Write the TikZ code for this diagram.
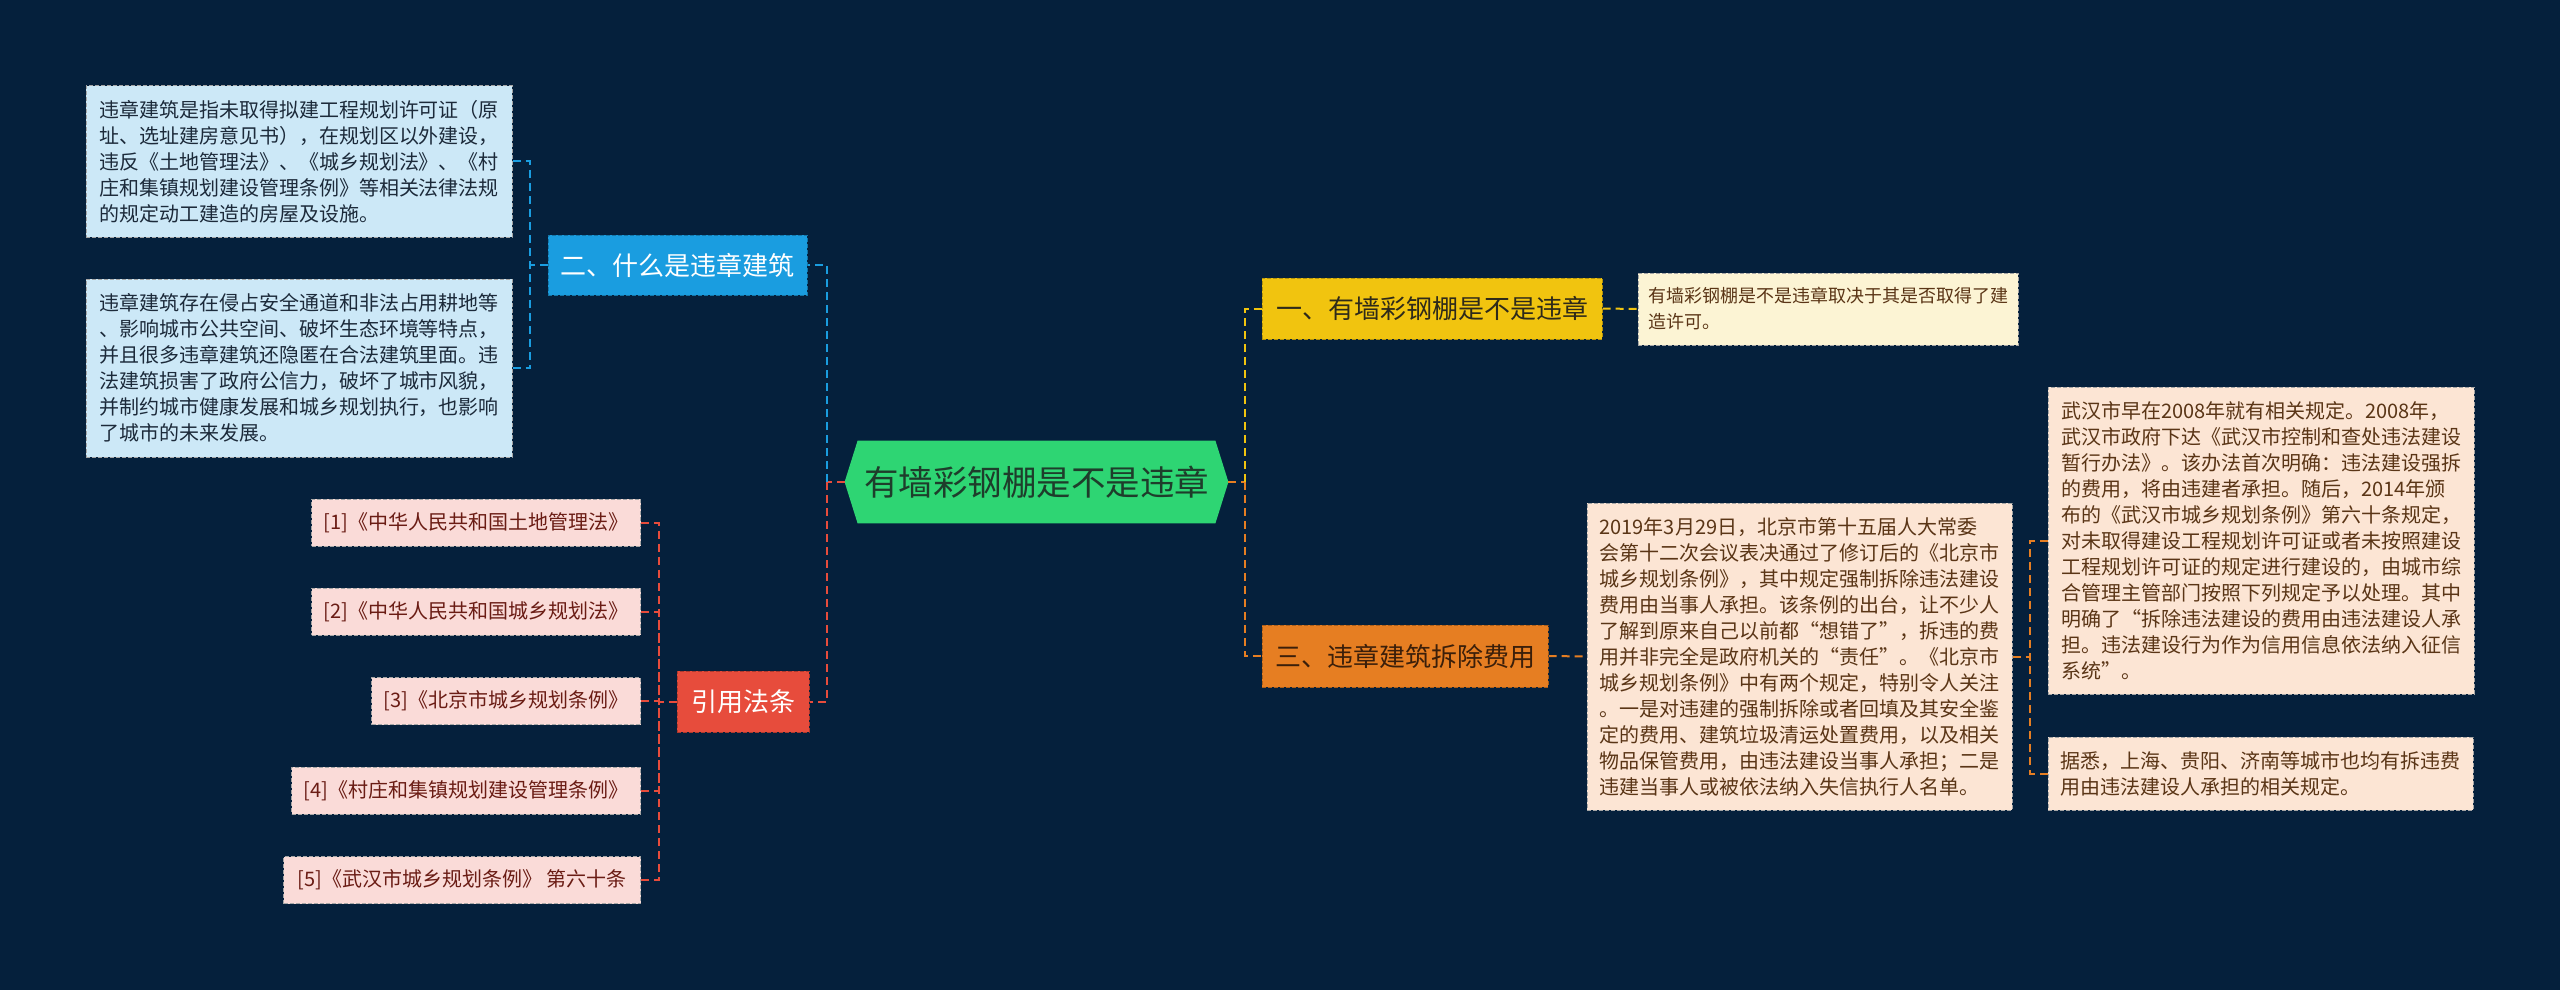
\documentclass[tikz,border=0pt]{standalone}
\usepackage{fontspec}
\setmainfont{Noto Sans CJK SC}
\usetikzlibrary{backgrounds}
\definecolor{bg}{HTML}{05203C}
\definecolor{rootgreen}{HTML}{2ED573}
\definecolor{roottext}{HTML}{1E3D2B}
\definecolor{cblue}{HTML}{1A9DE0}
\definecolor{cred}{HTML}{E74C3C}
\definecolor{cyellow}{HTML}{F1C40F}
\definecolor{corange}{HTML}{E67E22}
\definecolor{bnote}{HTML}{CCE8F7}
\definecolor{bnotetext}{HTML}{1C2A3A}
\definecolor{ynote}{HTML}{FCF4D4}
\definecolor{onote}{HTML}{FCE5D4}
\definecolor{cnotetext}{HTML}{5A3516}
\definecolor{refbox}{HTML}{FADBD8}
\definecolor{reftext}{HTML}{6A1C14}
\definecolor{ytext}{HTML}{2E2A1A}
\definecolor{otext}{HTML}{3B1F0A}
\begin{document}
\begin{tikzpicture}[x=0.5pt,y=-0.5pt,
  conn/.style={line width=1pt, dash pattern=on 4pt off 2.5pt},
  notebase/.style={draw=gray!70, dash pattern=on 2pt off 1pt, line width=0.5pt,
    inner sep=0pt, align=left, font=\fontsize{10pt}{13pt}\selectfont},
  bluenote/.style={notebase, fill=bnote, text=bnotetext},
  ynotebox/.style={notebase, fill=ynote, text=cnotetext},
  onotebox/.style={notebase, fill=onote, text=cnotetext},
  refnode/.style={notebase, fill=refbox, text=reftext, align=center,
    minimum height=23.5pt, anchor=east},
  lvl/.style={fill=#1, draw=#1!75!black, dash pattern=on 2pt off 1pt, line width=0.5pt,
    inner sep=0pt, font=\fontsize{13pt}{15pt}\selectfont}
]
% root
\node[inner sep=0pt, minimum width=178.5pt, minimum height=41pt, text=roottext,
  font=\fontsize{17.25pt}{20pt}\selectfont] (root) at (1036.5,482) {有墙彩钢棚是不是违章};
\coordinate (rootL) at ([xshift=-6.5pt]root.west);
\coordinate (rootR) at ([xshift=6.5pt]root.east);
\begin{scope}[on background layer]
  \fill[bg] (0,0) rectangle (2560,990);
  \fill[rootgreen] (root.north west) -- (root.north east) -- (rootR) -- (root.south east)
    -- (root.south west) -- (rootL) -- cycle;
\end{scope}

% level-1 nodes
\node[lvl=cblue, text=white, minimum width=129.5pt, minimum height=30pt] (blue) at (677.5,265) {二、什么是违章建筑};
\node[lvl=cred, text=white, minimum width=66pt, minimum height=30.5pt] (red) at (743,701.5) {引用法条};
\node[lvl=cyellow, text=ytext, minimum width=170pt, minimum height=30.5pt] (yellow) at (1432,308.5) {一、有墙彩钢棚是不是违章};
\node[lvl=corange, text=otext, minimum width=143pt, minimum height=31pt] (orange) at (1405,656) {三、违章建筑拆除费用};

% left notes
\node[bluenote, minimum width=213pt, minimum height=75.5pt] (note1) at (299,161.5) {违章建筑是指未取得拟建工程规划许可证（原\\址、选址建房意见书），在规划区以外建设，\\违反《土地管理法》、《城乡规划法》、《村\\庄和集镇规划建设管理条例》等相关法律法规\\的规定动工建造的房屋及设施。};
\node[bluenote, minimum width=213pt, minimum height=89pt] (note2) at (299,368) {违章建筑存在侵占安全通道和非法占用耕地等\\、影响城市公共空间、破坏生态环境等特点，\\并且很多违章建筑还隐匿在合法建筑里面。违\\法建筑损害了政府公信力，破坏了城市风貌，\\并制约城市健康发展和城乡规划执行，也影响\\了城市的未来发展。};

% references
\node[refnode, minimum width=164.5pt] (ref1) at (641,522.5) {[1]《中华人民共和国土地管理法》};
\node[refnode, minimum width=164.5pt] (ref2) at (641,611.5) {[2]《中华人民共和国城乡规划法》};
\node[refnode, minimum width=134.5pt] (ref3) at (641,701) {[3]《北京市城乡规划条例》};
\node[refnode, minimum width=174.5pt] (ref4) at (641,790.5) {[4]《村庄和集镇规划建设管理条例》};
\node[refnode, minimum width=178.5pt] (ref5) at (641,880) {[5]《武汉市城乡规划条例》 第六十条};

% right notes
\node[ynotebox, minimum width=190pt, minimum height=36pt, font=\fontsize{9pt}{13pt}\selectfont] (ynote) at (1828,309) {有墙彩钢棚是不是违章取决于其是否取得了建\\造许可。};
\node[onotebox, minimum width=212.5pt, minimum height=153.5pt] (onote) at (1799.5,656.5) {2019年3月29日，北京市第十五届人大常委\\会第十二次会议表决通过了修订后的《北京市\\城乡规划条例》，其中规定强制拆除违法建设\\费用由当事人承担。该条例的出台，让不少人\\了解到原来自己以前都“想错了”，拆违的费\\用并非完全是政府机关的“责任”。《北京市\\城乡规划条例》中有两个规定，特别令人关注\\。一是对违建的强制拆除或者回填及其安全鉴\\定的费用、建筑垃圾清运处置费用，以及相关\\物品保管费用，由违法建设当事人承担；二是\\违建当事人或被依法纳入失信执行人名单。};
\node[onotebox, minimum width=213pt, minimum height=153.5pt] (noteA) at (2261,540.5) {武汉市早在2008年就有相关规定。2008年，\\武汉市政府下达《武汉市控制和查处违法建设\\暂行办法》。该办法首次明确：违法建设强拆\\的费用，将由违建者承担。随后，2014年颁\\布的《武汉市城乡规划条例》第六十条规定，\\对未取得建设工程规划许可证或者未按照建设\\工程规划许可证的规定进行建设的，由城市综\\合管理主管部门按照下列规定予以处理。其中\\明确了“拆除违法建设的费用由违法建设人承\\担。违法建设行为作为信用信息依法纳入征信\\系统”。};
\node[onotebox, minimum width=212.5pt, minimum height=36.5pt] (noteB) at (2260.5,773.5) {据悉，上海、贵阳、济南等城市也均有拆违费\\用由违法建设人承担的相关规定。};

% junctions
\coordinate (jl) at (827,482);
\coordinate (jr) at (1245,482);
\coordinate (jb) at (530,265);
\coordinate (jref) at (659,701.5);
\coordinate (jo) at (2030,656.5);

% connectors
\draw[conn, cred] (rootL) -- (jl);
\draw[conn, cblue] (jl) |- (blue.east);
\draw[conn, cred] (jl) |- (red.east);
\draw[conn, corange] (rootR) -- (jr);
\draw[conn, cyellow] (jr) |- (yellow.west);
\draw[conn, corange] (jr) |- (orange.west);

\draw[conn, cblue] (blue.west) -- (jb);
\draw[conn, cblue] (note1.east) -| (jb);
\draw[conn, cblue] (note2.east) -| (jb);

\draw[conn, cred] (red.west) -- (jref);
\foreach \r in {ref1,ref2,ref3,ref4,ref5}
  \draw[conn, cred] (\r.east) -| (jref);

\draw[conn, cyellow] (yellow.east) -- (ynote.west);
\draw[conn, corange] (orange.east) -- (onote.west);
\draw[conn, corange] (onote.east) -- (jo);
\draw[conn, corange] (noteA.west) -| (jo);
\draw[conn, corange] (noteB.west) -| (jo);
\end{tikzpicture}
\end{document}
